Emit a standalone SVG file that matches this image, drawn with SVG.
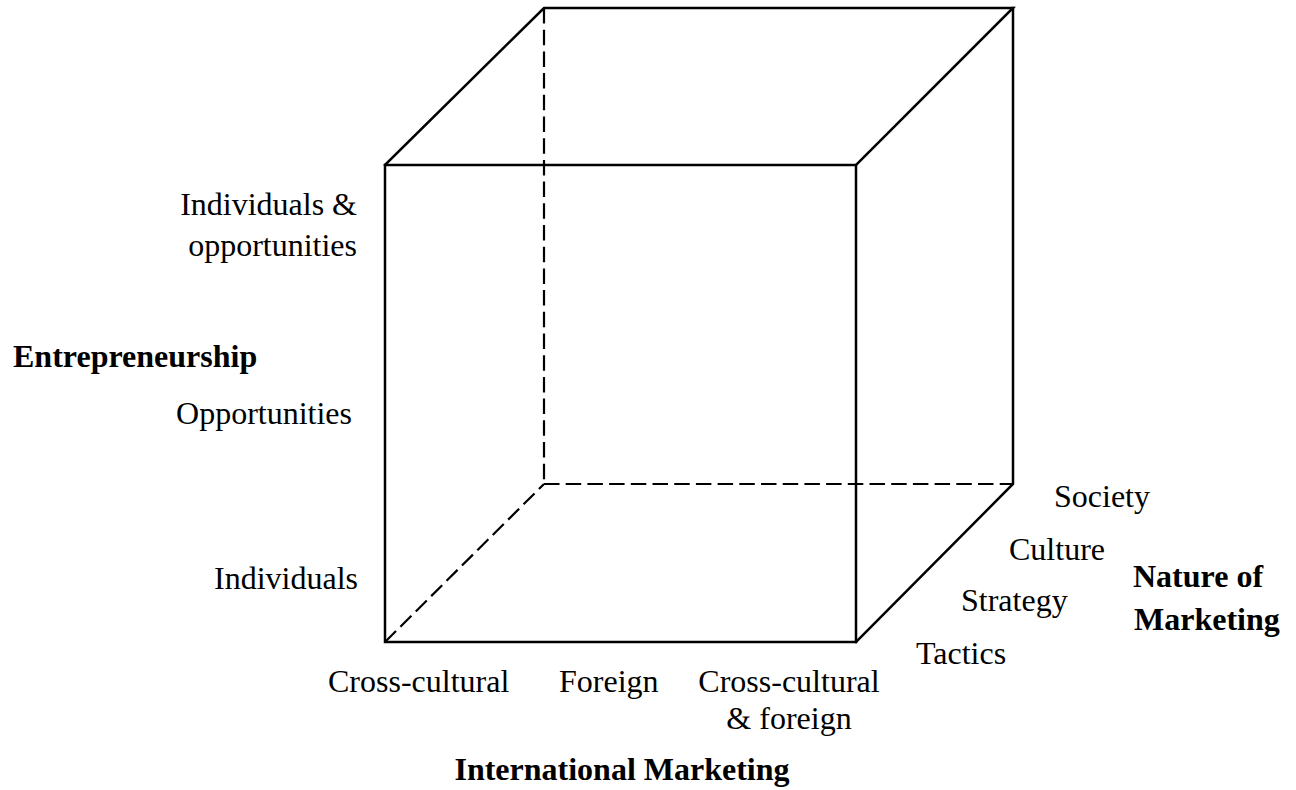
<svg xmlns="http://www.w3.org/2000/svg" width="1296" height="790" viewBox="0 0 1296 790">
<style>
.e{stroke:#000;stroke-width:2.5;fill:none;stroke-linejoin:miter;stroke-linecap:square}
.d{stroke:#000;stroke-width:2.2;fill:none;stroke-dasharray:15.5 6.2}
text{font-family:"Liberation Serif","Times New Roman",serif;font-size:32px;fill:#000}
.b{font-weight:bold}
.r{text-anchor:end}
.m{text-anchor:middle}
</style>
<rect width="1296" height="790" fill="#fff"/>
<g id="connectors">
<line class="d" x1="544" y1="8" x2="544" y2="484"/>
<line class="d" x1="544" y1="484" x2="1013" y2="484"/>
<line class="d" x1="385" y1="642" x2="544" y2="484"/>
</g>
<g id="cube">
<rect class="e" x="385" y="165" width="471" height="477"/>
<polyline class="e" points="385,165 544,8 1013,8 856,165"/>
<polyline class="e" points="1013,8 1013,484 856,642"/>
</g>
<g id="entrepreneurship-axis">
<text class="r" x="357" y="215">Individuals &amp;</text>
<text class="r" x="357" y="256">opportunities</text>
<text class="b" x="13" y="367">Entrepreneurship</text>
<text class="r" x="352" y="424">Opportunities</text>
<text class="r" x="358" y="589">Individuals</text>
</g>
<g id="international-marketing-axis">
<text x="328" y="692">Cross-cultural</text>
<text x="559" y="692">Foreign</text>
<text class="m" x="789" y="692">Cross-cultural</text>
<text class="m" x="789" y="729">&amp; foreign</text>
<text class="b m" x="622" y="780">International Marketing</text>
</g>
<g id="nature-of-marketing-axis">
<text x="1054" y="507">Society</text>
<text x="1009" y="560">Culture</text>
<text x="961" y="611">Strategy</text>
<text x="916" y="664">Tactics</text>
<text class="b" x="1133" y="587">Nature of</text>
<text class="b" x="1134" y="630">Marketing</text>
</g>
</svg>
